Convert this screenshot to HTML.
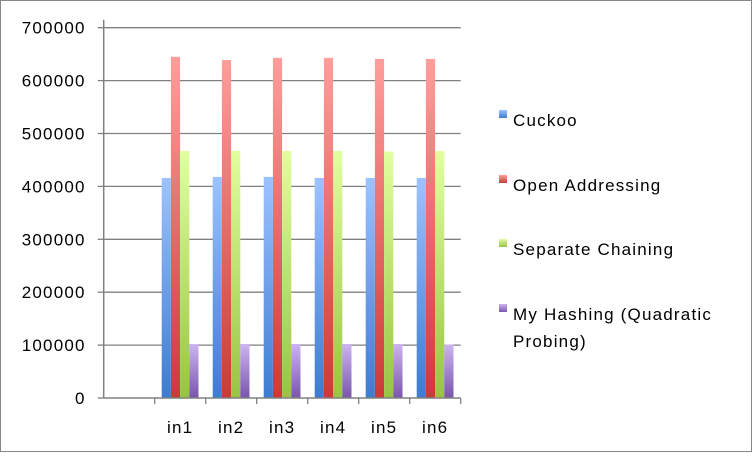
<!DOCTYPE html>
<html><head><meta charset="utf-8"><style>
body{margin:0;background:#fff}
svg text{font-family:"Liberation Sans",sans-serif;fill:#000;font-size:17px;letter-spacing:1.2px}
</style></head><body>
<svg width="752" height="452" xmlns="http://www.w3.org/2000/svg">
<defs>
<linearGradient id="gc" x1="0" y1="0" x2="0" y2="1"><stop offset="0" stop-color="#9ec2ff"/><stop offset="1" stop-color="#3d7cd0"/></linearGradient>
<linearGradient id="go" x1="0" y1="0" x2="0" y2="1"><stop offset="0" stop-color="#ff9e9c"/><stop offset="1" stop-color="#cc3a36"/></linearGradient>
<linearGradient id="gs" x1="0" y1="0" x2="0" y2="1"><stop offset="0" stop-color="#e0ff9e"/><stop offset="1" stop-color="#98c444"/></linearGradient>
<linearGradient id="gm" x1="0" y1="0" x2="0" y2="1"><stop offset="0" stop-color="#cdb4f0"/><stop offset="1" stop-color="#7a55ad"/></linearGradient>
</defs>
<rect x="0.5" y="0.5" width="751" height="451" fill="#fff" stroke="#888"/>
<g id="grid"></g><g id="bars"></g><g id="axes"></g><g id="legend"></g>
</svg>
<script>
const categories=["","in1","in2","in3","in4","in5","in6"];
const seriesNames=["Cuckoo","Open Addressing","Separate Chaining","My Hashing  (Quadratic"];
const cuckoo=[null,416000,418000,418000,416000,416000,416000];
const openAddr=[null,645000,639000,643000,643000,641000,641000];
const separate=[null,467000,467000,467000,467000,466000,467000];
const myHash=[null,102000,102000,102000,102000,102000,101000];
const yTicks=[0,100000,200000,300000,400000,500000,600000,700000];
const NS="http://www.w3.org/2000/svg";
const x0=103.7,slot=51,y0=398,yMax=700000,yTop=27.7;
const yS=v=>y0-(v/yMax)*(y0-yTop);
function mk(t,a,p){const e=document.createElementNS(NS,t);for(const k in a)e.setAttribute(k,a[k]);p.appendChild(e);return e;}
const grid=document.getElementById('grid'),bars=document.getElementById('bars'),axes=document.getElementById('axes'),leg=document.getElementById('legend');
const xEnd=x0+slot*categories.length;
yTicks.forEach(v=>{
  const y=yS(v);
  if(v>0){const l=mk('line',{x1:x0,x2:xEnd,y1:y,y2:y,stroke:'#808080','stroke-width':1.3},grid);
  
  }
  const tk=mk('line',{x1:x0-6,x2:x0,y1:y,y2:y,stroke:'#808080','stroke-width':1.3},axes);
  
  
  const t=mk('text',{x:x0-18,y:y+6,'text-anchor':'end'},axes);t.textContent=v;
  
  
});
const ax=mk('line',{x1:x0,x2:x0,y1:yTop-8,y2:y0,stroke:'#808080','stroke-width':1.5},axes);


const bx=mk('line',{x1:x0,x2:xEnd,y1:y0,y2:y0,stroke:'#808080','stroke-width':1.5},axes);


categories.forEach((c,i)=>{
  const xt=x0+slot*(i+1);
  const tk=mk('line',{x1:xt,x2:xt,y1:y0,y2:y0+6,stroke:'#808080','stroke-width':1.3},axes);
  
  
  if(c){const t=mk('text',{x:x0+slot*i+slot/2,y:433,'text-anchor':'middle'},axes);t.textContent=c;
  
  }
});
const series=[cuckoo,openAddr,separate,myHash],fills=['url(#gc)','url(#go)','url(#gs)','url(#gm)'],bw=9.2;
series.forEach((s,k)=>s.forEach((v,i)=>{
  if(v==null)return;
  const x=x0+slot*i+slot/2-18.5+k*bw;
  const r=mk('rect',{x:x,y:yS(v),width:bw,height:y0-yS(v),fill:fills[k]},bars);
  
  
}));
const ly=[120,185,249,314];
seriesNames.forEach((n,k)=>{
  const r=mk('rect',{x:499,y:ly[k]-10,width:8,height:8,fill:fills[k]},leg);
  
  
  const t=mk('text',{x:513,y:ly[k]+6,'xml:space':'preserve'},leg);t.textContent=n;
  
  
});
const t2=mk('text',{x:513,y:347},leg);t2.textContent="Probing)";


</script>
</body></html>
